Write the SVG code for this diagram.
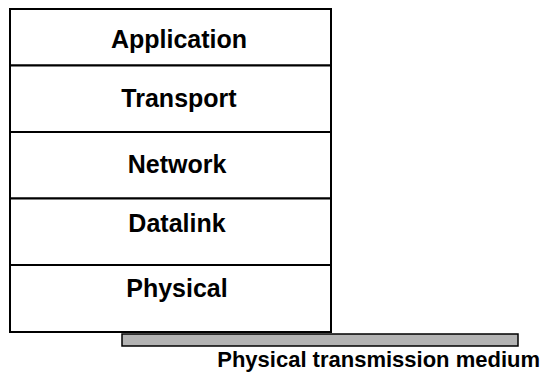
<svg xmlns="http://www.w3.org/2000/svg" width="550" height="374" viewBox="0 0 550 374">
<style>
.layer{fill:#fff;stroke:#000;stroke-width:2}
.lbl{font-family:"Liberation Sans",Arial,sans-serif;font-weight:bold;font-size:25px;fill:#000;text-anchor:middle}
.cap{font-family:"Liberation Sans",Arial,sans-serif;font-weight:bold;font-size:22px;fill:#000;text-anchor:end}
.medium{fill:#b3b3b3;stroke:#000;stroke-width:1.5}
</style>
<rect width="550" height="374" fill="#fff"/>
<g id="application"><rect class="layer" x="10" y="9" width="321" height="56.5"/><text class="lbl" x="179" y="48">Application</text></g>
<g id="transport"><rect class="layer" x="10" y="65.5" width="321" height="66.5"/><text class="lbl" x="179" y="107">Transport</text></g>
<g id="network"><rect class="layer" x="10" y="132" width="321" height="66.5"/><text class="lbl" x="177" y="172.5">Network</text></g>
<g id="datalink"><rect class="layer" x="10" y="198.5" width="321" height="66.5"/><text class="lbl" x="177" y="232">Datalink</text></g>
<g id="physical"><rect class="layer" x="10" y="265" width="321" height="67"/><text class="lbl" x="177" y="297">Physical</text></g>
<g id="medium"><rect class="medium" x="122" y="334" width="396" height="12"/><text class="cap" x="540" y="367">Physical transmission medium</text></g>
<g id="connectors"></g>
</svg>
